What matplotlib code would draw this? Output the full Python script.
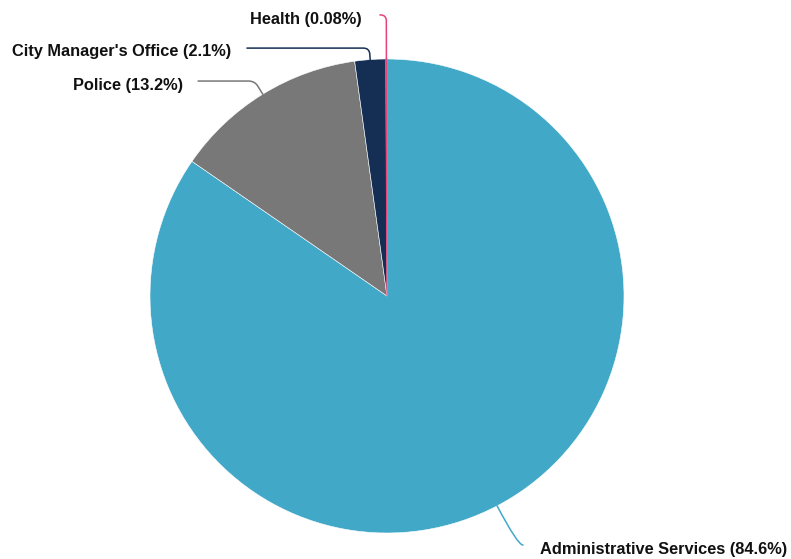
import numpy as np
import matplotlib.pyplot as plt

plt.rcParams['font.family'] = ['Liberation Sans', 'DejaVu Sans']

departments = ["Administrative Services", "Police", "City Manager's Office", "Health"]
shares = [84.6, 13.2, 2.1, 0.08]
share_labels = ["84.6%", "13.2%", "2.1%", "0.08%"]
colors = ["#42a8c8", "#787878", "#142e54", "#e8417c"]

fig = plt.figure(figsize=(7.91, 5.59), dpi=100)
ax = fig.add_axes([0, 0, 1, 1])

wedges, _ = ax.pie(shares, colors=colors, startangle=90, counterclock=False,
                   radius=1, wedgeprops=dict(edgecolor="white", linewidth=0.4))
# the health slice is barely a pixel wide, so outline it in its own colour
wedges[3].set_edgecolor(colors[3])
wedges[3].set_linewidth(0.8)

# 237 px per data unit, pie centre at pixel (387, 296)
ax.set_xlim(-387 / 237, (791 - 387) / 237)
ax.set_ylim(-(559 - 296) / 237, 296 / 237)
ax.set_aspect("auto")

# label text position, ha, connector start, connection style kind
label_layout = [
    ((0.646, -1.071), "left", (0.574, -1.051), "angle3"),
    ((-0.861, 0.887), "right", (-0.797, 0.907), "angle"),
    ((-0.658, 1.030), "right", (-0.591, 1.046), "angle"),
    ((-0.105, 1.165), "right", (-0.030, 1.186), "angle"),
]

for w, name, pct, col, (tpos, ha, cpos, kind) in zip(
        wedges, departments, share_labels, colors, label_layout):
    mid = np.deg2rad((w.theta1 + w.theta2) / 2)
    anchor = (w.r * np.cos(mid), w.r * np.sin(mid))
    ang = np.rad2deg(mid)
    ax.text(tpos[0], tpos[1], f"{name} ({pct})", ha=ha, va="center",
            fontsize=11.8, fontweight="bold", color="#111111")
    if kind == "angle3":
        style = f"angle3,angleA=0,angleB={ang:.1f}"
    else:
        style = f"angle,angleA=0,angleB={ang:.1f},rad=6"
    ax.annotate("", xy=anchor, xytext=cpos,
                arrowprops=dict(arrowstyle="-", color=col, lw=1.1,
                                shrinkA=0, shrinkB=0, connectionstyle=style))

fig.savefig("out.png", dpi=100)
